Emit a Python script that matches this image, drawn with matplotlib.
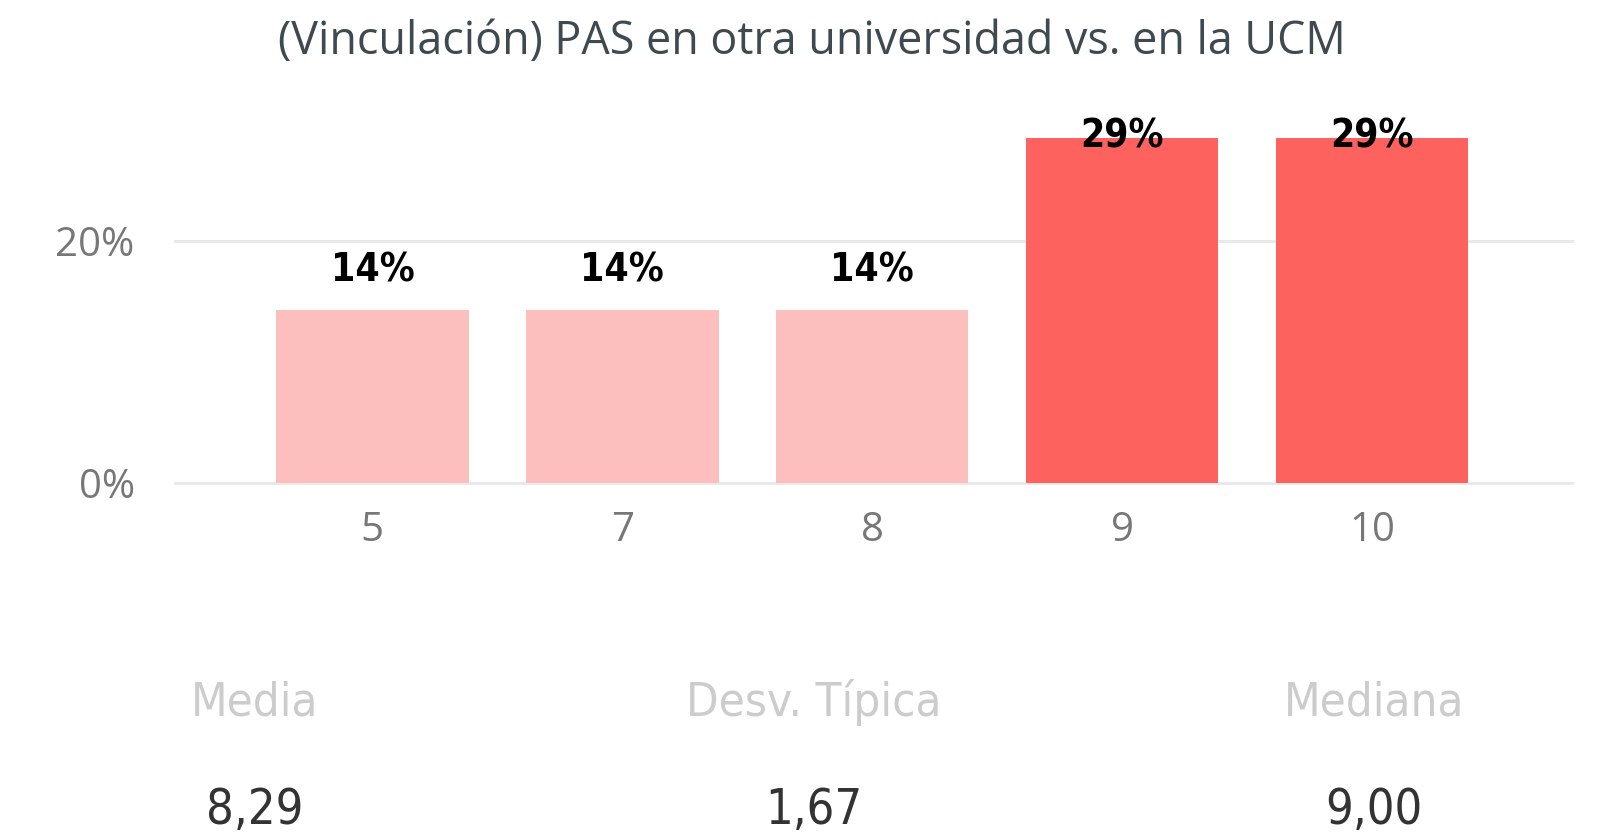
import matplotlib
matplotlib.use('Agg')
import matplotlib.pyplot as plt

# datos del gráfico
categorias = ['5', '7', '8', '9', '10']
porcentajes = [1 / 7, 1 / 7, 1 / 7, 2 / 7, 2 / 7]
destacado = [False, False, False, True, True]
titulo = '(Vinculación) PAS en otra universidad vs. en la UCM'
resumen_nombres = ['Media', 'Desv. Típica', 'Mediana']
resumen_valores = ['8,29', '1,67', '9,00']

fig = plt.figure(figsize=(15.98, 8.35), dpi=100)
ax = fig.add_axes([0.1095, 0.4219, 0.8742, 0.4368])

colores = ['#FD625E' if d else '#FDBEBE' for d in destacado]
x = range(len(categorias))
barras = ax.bar(x, porcentajes, width=0.77, color=colores, zorder=2)

ytop = 0.302
ax.set_ylim(0, ytop)
ax.set_xlim(-0.79, 4.8)

# etiquetas de datos encima de cada barra (pegadas al borde si no caben)
fuente_num = dict(family='DejaVu Sans', stretch='condensed')
for xi, v in zip(x, porcentajes):
    txt = f'{round(v * 100):.0f}%'
    if v + 0.045 > ytop:
        ax.text(xi, ytop, txt, ha='center', va='top', fontsize=28,
                fontweight='bold', color='black', zorder=3, **fuente_num)
    else:
        ax.annotate(txt, (xi, v), xytext=(0, 21), textcoords='offset points',
                    ha='center', va='baseline', fontsize=28, fontweight='bold',
                    color='black', zorder=3, **fuente_num)

ax.set_yticks([0, 0.2])
ax.set_yticklabels(['0%', '20%'])
ax.set_xticks(list(x))
ax.set_xticklabels(categorias)
ax.grid(axis='y', color='#E9E9E9', linewidth=2.2, zorder=0)
for g in ax.yaxis.get_gridlines():
    g.set_clip_on(False)
for s in ax.spines.values():
    s.set_visible(False)
ax.tick_params(length=0, colors='#777777', labelsize=29)
ax.tick_params(axis='y', pad=29)
ax.tick_params(axis='x', pad=20)
for lab in ax.get_xticklabels() + ax.get_yticklabels():
    lab.set_family('Open Sans')

fig.text(812 / 1598, 1 - 54 / 835, titulo, ha='center', va='baseline',
         fontsize=32.3, color='#3E4A4F', family='Open Sans')

# tarjetas de resumen
posiciones = [255, 814, 1374]
for px, nombre, valor in zip(posiciones, resumen_nombres, resumen_valores):
    fig.text(px / 1598, 1 - 716 / 835, nombre, ha='center', va='baseline',
             fontsize=34, color='#CCCCCC', **fuente_num)
    fig.text(px / 1598, 1 - 824 / 835, valor, ha='center', va='baseline',
             fontsize=35, color='#333333', **fuente_num)

fig.savefig('out.png', dpi=100, facecolor='white')
